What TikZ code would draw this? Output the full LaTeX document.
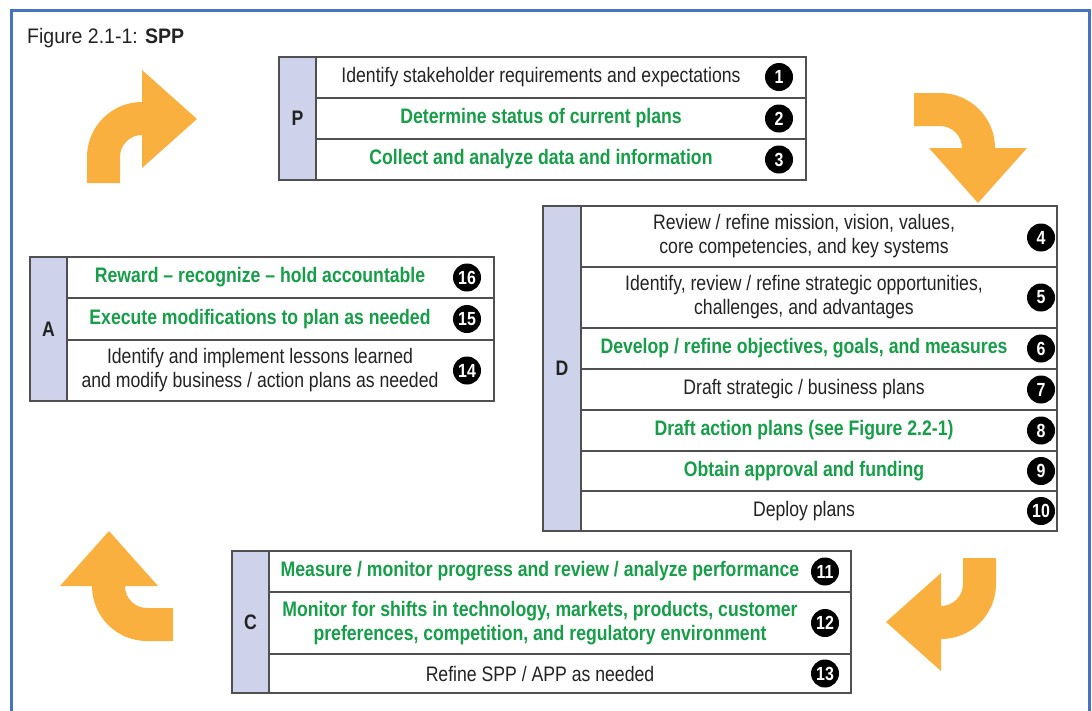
\documentclass[tikz,border=0pt]{standalone}
\usepackage{fontspec}
\setmainfont{Liberation Sans}[FakeStretch=0.84]
\newfontfamily\titlefont{Liberation Sans}[FakeStretch=0.93]
\definecolor{frameblue}{RGB}{70,114,196}
\definecolor{pfeil}{RGB}{250,176,62}
\definecolor{stepgreen}{RGB}{22,158,72}
\definecolor{boxline}{RGB}{80,80,80}
\definecolor{phasefill}{RGB}{206,210,234}
\definecolor{stepblack}{RGB}{35,35,35}
\tikzset{
    turnarrow/.pic={
        \fill[pfeil] (-55,26) -- (-55,0) arc[start angle=180, end angle=270, radius=55]
            -- (0,-87) -- (55,-38) -- (0,11) -- (0,-22)
            arc[start angle=270, end angle=180, radius=22] -- (-22,26) -- cycle;
    },
    phasebox/.style={draw=boxline, line width=1.5pt, fill=phasefill},
    rowbox/.style={draw=boxline, line width=1.5pt, fill=white},
    phase/.style={font=\bfseries\fontsize{21}{24}\selectfont, text=stepblack},
    greenstep/.style={font=\bfseries\fontsize{21}{24}\selectfont, text=stepgreen, align=center},
    blackstep/.style={font=\fontsize{21}{24}\selectfont, text=stepblack, align=center},
    nr/.style={circle, fill=black, text=white, minimum size=28pt, inner sep=0pt, font=\bfseries\fontsize{19}{19}\selectfont},
}

\begin{document}
\begin{tikzpicture}[x=1pt, y=-1pt]

    \useasboundingbox (0,0) rectangle (1092,710);
    \draw[frameblue, line width=3pt] (11,10) rectangle (1089,725);
    \node[anchor=base west, inner sep=0pt, font=\titlefont\fontsize{21}{24}\selectfont, text=stepblack] (title) at (27,43) {Figure 2.1-1: \textbf{SPP}};

    % orange turn arrows
    \pic at (142,157) {turnarrow};
    \pic[rotate=-90] at (940,148) {turnarrow};
    \pic[rotate=180] at (941,584) {turnarrow};
    \pic[rotate=90] at (147,586) {turnarrow};

    % P
    \draw[phasebox] (279,57) rectangle (316,180);
    \node[phase] (P) at (297.5,118.5) {P};
    \draw[rowbox] (316,57) rectangle (806,98);
    \draw[rowbox] (316,98) rectangle (806,139);
    \draw[rowbox] (316,139) rectangle (806,180);
    \node[blackstep] (p1) at (541,77.5) {Identify stakeholder requirements and expectations};
    \node[greenstep] (p2) at (541,118.5) {Determine status of current plans};
    \node[greenstep] (p3) at (541,159.5) {Collect and analyze data and information};
    \node[nr] (n1) at (779,77) {1};
    \node[nr] (n2) at (779,118.5) {2};
    \node[nr] (n3) at (779,159.5) {3};

    % D
    \draw[phasebox] (543,206) rectangle (581,531);
    \node[phase] (D) at (562,368.5) {D};
    \draw[rowbox] (581,206) rectangle (1057,267);
    \draw[rowbox] (581,267) rectangle (1057,328);
    \draw[rowbox] (581,328) rectangle (1057,369);
    \draw[rowbox] (581,369) rectangle (1057,410);
    \draw[rowbox] (581,410) rectangle (1057,451);
    \draw[rowbox] (581,451) rectangle (1057,491);
    \draw[rowbox] (581,491) rectangle (1057,531);
    \node[blackstep] (d4) at (804,236.5) {Review / refine mission, vision, values,\\core competencies, and key systems};
    \node[blackstep] (d5) at (804,297.5) {Identify, review / refine strategic opportunities,\\challenges, and advantages};
    \node[greenstep] (d6) at (804,348.5) {Develop / refine objectives, goals, and measures};
    \node[blackstep] (d7) at (804,389.5) {Draft strategic / business plans};
    \node[greenstep] (d8) at (804,430.5) {Draft action plans (see Figure 2.2-1)};
    \node[greenstep] (d9) at (804,471) {Obtain approval and funding};
    \node[blackstep] (d10) at (804,511) {Deploy plans};
    \node[nr] (n4) at (1041,237.5) {4};
    \node[nr] (n5) at (1041,297.5) {5};
    \node[nr] (n6) at (1041,348.5) {6};
    \node[nr] (n7) at (1041,389.5) {7};
    \node[nr] (n8) at (1041,430.5) {8};
    \node[nr] (n9) at (1041,471) {9};
    \node[nr] (n10) at (1041,511) {10};

    % C
    \draw[phasebox] (232,551) rectangle (269,693);
    \node[phase] (C) at (250.5,622) {C};
    \draw[rowbox] (269,551) rectangle (851,592);
    \draw[rowbox] (269,592) rectangle (851,654);
    \draw[rowbox] (269,654) rectangle (851,693);
    \node[greenstep] (c11) at (540,571.5) {Measure / monitor progress and review / analyze performance};
    \node[greenstep] (c12) at (540,623) {Monitor for shifts in technology, markets, products, customer\\preferences, competition, and regulatory environment};
    \node[blackstep] (c13) at (540,673.5) {Refine SPP / APP as needed};
    \node[nr] (n11) at (825,571.5) {11};
    \node[nr] (n12) at (825,623) {12};
    \node[nr] (n13) at (825,673.5) {13};

    % A
    \draw[phasebox] (30,257) rectangle (67,401);
    \node[phase] (A) at (48.5,329) {A};
    \draw[rowbox] (67,257) rectangle (494,298);
    \draw[rowbox] (67,298) rectangle (494,340);
    \draw[rowbox] (67,340) rectangle (494,401);
    \node[greenstep] (a16) at (260,277.5) {Reward -- recognize -- hold accountable};
    \node[greenstep] (a15) at (260,319) {Execute modifications to plan as needed};
    \node[blackstep] (a14) at (260,370.5) {Identify and implement lessons learned\\and modify business / action plans as needed};
    \node[nr] (n16) at (467,277.5) {16};
    \node[nr] (n15) at (467,319) {15};
    \node[nr] (n14) at (467,370.5) {14};

\end{tikzpicture}
\end{document}
